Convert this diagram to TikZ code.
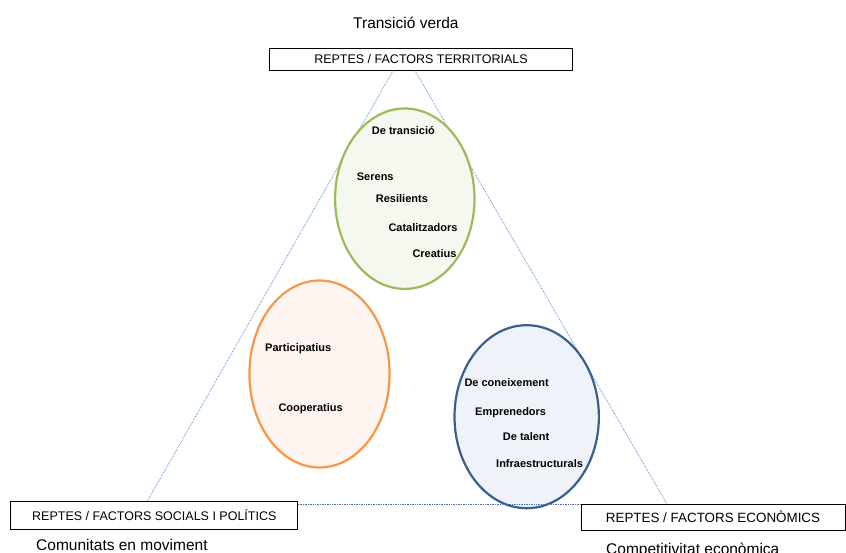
\documentclass[tikz,border=0pt]{standalone}
\usepackage{fontspec}
\setmainfont{Liberation Sans}
\definecolor{greenline}{HTML}{9BBB59}
\definecolor{greenfill}{HTML}{F5F8EF}
\definecolor{orangeline}{HTML}{F79646}
\definecolor{orangefill}{HTML}{FEF5F0}
\definecolor{blueline}{HTML}{3A5F8E}
\definecolor{bluefill}{HTML}{EFF3F9}
\definecolor{axis}{HTML}{5B8FD5}
\begin{document}
\begin{tikzpicture}[x=1pt,y=-1pt,
  box/.style={draw=black,line width=0.9pt,fill=white,inner sep=0pt,
    font=\fontsize{12.5}{14}\selectfont},
  bubble/.style={line width=2.2pt},
  item/.style={anchor=base west,inner sep=0pt,font=\fontsize{11}{13}\selectfont\bfseries},
  caption/.style={anchor=base west,inner sep=0pt,font=\fontsize{15.5}{18}\selectfont},
  axisline/.style={draw=axis,line width=0.75pt,dash pattern=on 0.8pt off 0.9pt}]
\useasboundingbox (0,0) rectangle (846,552);

% corner boxes
\node[box,minimum width=303pt,minimum height=22.4pt] (terr) at (421,59.5)
  {REPTES / FACTORS TERRITORIALS};
\node[box,minimum width=287pt,minimum height=27.6pt] (soc) at (154.3,515.5)
  {REPTES / FACTORS SOCIALS I POLÍTICS};
\node[box,minimum width=264pt,minimum height=26pt,font=\fontsize{13.4}{15}\selectfont] (eco) at (713,517)
  {REPTES / FACTORS ECONÒMICS};

% triangle sides
\coordinate (tl) at (393,70.7);
\coordinate (tr) at (415,70.7);
\coordinate (bl) at (147,501.7);
\coordinate (br) at (667,504);
\coordinate (hl) at (297.8,504.5);
\coordinate (hr) at (581,504.5);
\draw[axisline] (tl) -- (bl);
\draw[axisline] (tr) -- (br);

% challenge bubbles
\draw[bubble,draw=greenline,fill=greenfill] (404.8,198.7) ellipse [x radius=69.7,y radius=90.2];
\draw[bubble,draw=orangeline,fill=orangefill] (319.5,374) ellipse [x radius=70.1,y radius=93.5];
\draw[bubble,draw=blueline,fill=bluefill] (526.7,416.7) ellipse [x radius=72.2,y radius=91.5];

\draw[axisline,draw=axis!80!black] (hl) -- (hr);

% territorial factors
\node[item] (t1) at (371.7,134) {De transició};
\node[item] (t2) at (356.7,180) {Serens};
\node[item] (t3) at (375.7,202.7) {Resilients};
\node[item] (t4) at (388.3,231.7) {Catalitzadors};
\node[item] (t5) at (412.3,257.7) {Creatius};

% social and political factors
\node[item] (s1) at (265,351) {Participatius};
\node[item] (s2) at (278.3,411) {Cooperatius};

% economic factors
\node[item] (e1) at (464.3,386.7) {De coneixement};
\node[item] (e2) at (475,415.3) {Emprenedors};
\node[item] (e3) at (502.7,440) {De talent};
\node[item] (e4) at (496,467.7) {Infraestructurals};

% captions
\node[caption] (c1) at (353,28.3) {Transició verda};
\node[caption] (c2) at (36,550) {Comunitats en moviment};
\node[caption] (c3) at (606,554) {Competitivitat econòmica};
\end{tikzpicture}
\end{document}
